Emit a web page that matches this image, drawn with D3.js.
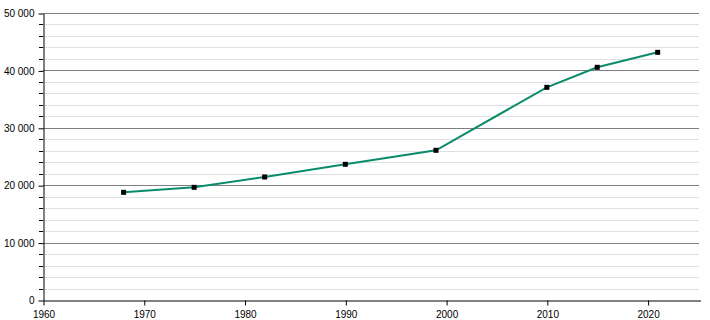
<!DOCTYPE html>
<html>
<head>
<meta charset="utf-8">
<script src="https://cdn.jsdelivr.net/npm/d3@7"></script>
<style>
  body { margin: 0; background: #fff; }
  text { font-family: "Liberation Sans", Arial, sans-serif; font-size: 10px; fill: #000; }
</style>
</head>
<body>
<script>
// population by census year
var years = [1968, 1975, 1982, 1990, 1999, 2010, 2015, 2021];
var population = [18760, 19630, 21430, 23640, 26080, 37050, 40540, 43150];
var xTicks = [1960, 1970, 1980, 1990, 2000, 2010, 2020];
var yTicks = [0, 10000, 20000, 30000, 40000, 50000];

var width = 710, height = 320;
var mLeft = 43, mRight = 700, mTop = 13, mBottom = 300;

var svg = d3.select("body").append("svg")
  .attr("width", width)
  .attr("height", height);

var x = d3.scaleLinear().domain([1960, 2025.2]).range([mLeft, mRight]);
var y = d3.scaleLinear().domain([0, 50000]).range([mBottom, mTop]);

var fmt = function (d) { return d3.format(",")(d).replace(/,/g, " "); };

// minor grid every 2000
var minor = d3.range(0, 50001, 2000).filter(function (d) { return d % 10000 !== 0; });
svg.append("g").selectAll("line").data(minor).enter().append("line")
  .attr("x1", mLeft).attr("x2", mRight - 1)
  .attr("y1", function (d) { return Math.round(y(d)) + 0.5; })
  .attr("y2", function (d) { return Math.round(y(d)) + 0.5; })
  .attr("stroke", "#e0e0e0");

// major grid
svg.append("g").selectAll("line").data(yTicks.slice(1)).enter().append("line")
  .attr("x1", mLeft).attr("x2", mRight - 1)
  .attr("y1", function (d) { return Math.round(y(d)) + 0.5; })
  .attr("y2", function (d) { return Math.round(y(d)) + 0.5; })
  .attr("stroke", "#808080");

// y axis
var yAxis = svg.append("g")
  .attr("transform", "translate(" + (mLeft + 0.5) + ",0.5)")
  .call(d3.axisLeft(y).tickValues(yTicks).tickFormat(fmt).tickSize(5).tickSizeOuter(0));
yAxis.select(".domain").attr("stroke", "#000");
yAxis.selectAll(".tick text").attr("x", -9).style("font-size", "10px").style("font-family", "Liberation Sans, Arial, sans-serif");

// minor y ticks
svg.append("g").selectAll("line").data(minor).enter().append("line")
  .attr("x1", mLeft - 4).attr("x2", mLeft)
  .attr("y1", function (d) { return Math.round(y(d)) + 0.5; })
  .attr("y2", function (d) { return Math.round(y(d)) + 0.5; })
  .attr("stroke", "#000");

// x axis
var xAxis = svg.append("g")
  .attr("transform", "translate(0.5," + (mBottom + 0.5) + ")")
  .call(d3.axisBottom(x).tickValues(xTicks).tickFormat(d3.format("d")).tickSize(5).tickSizeOuter(0));
xAxis.select(".domain").attr("stroke", "#000");
xAxis.selectAll(".tick text").attr("y", 10).style("font-size", "10px").style("font-family", "Liberation Sans, Arial, sans-serif");

// line
var line = d3.line()
  .x(function (d, i) { return x(years[i]); })
  .y(function (d) { return y(d); });

svg.append("path")
  .datum(population)
  .attr("d", line)
  .attr("fill", "none")
  .attr("stroke", "#0a8c6c")
  .attr("stroke-width", 2);

// markers
svg.append("g").selectAll("rect").data(population).enter().append("rect")
  .attr("x", function (d, i) { return x(years[i]) - 2.5; })
  .attr("y", function (d) { return y(d) - 2.5; })
  .attr("width", 5).attr("height", 5)
  .attr("fill", "#000");
</script>
</body>
</html>
